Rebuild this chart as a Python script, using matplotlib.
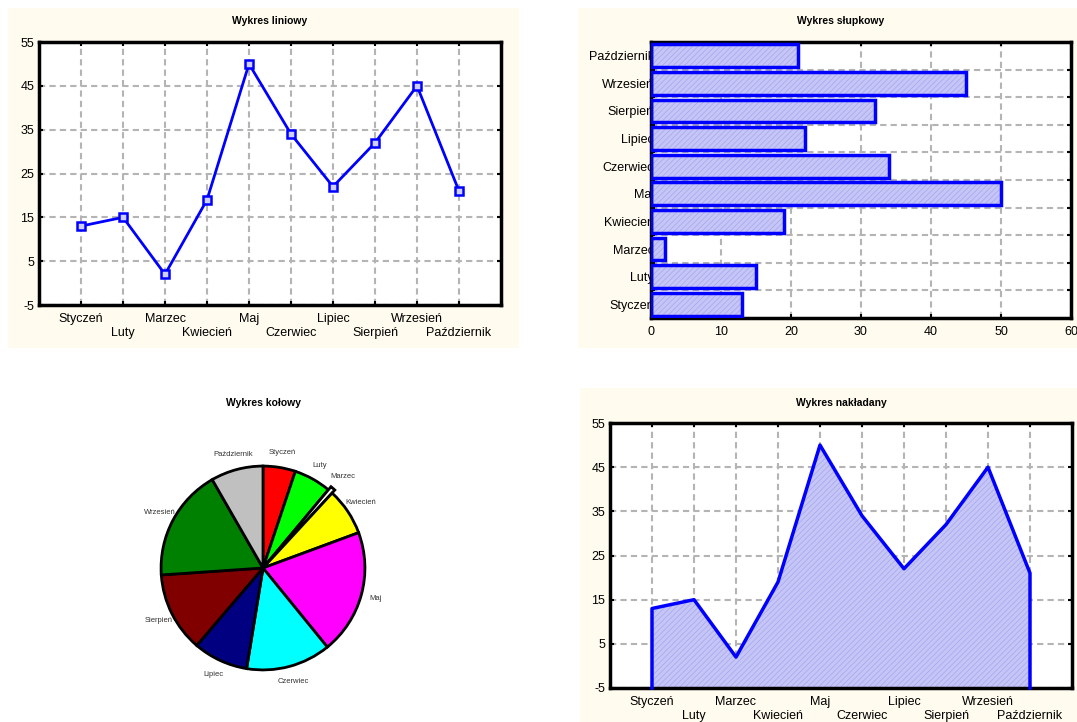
import numpy as np
import matplotlib
matplotlib.use("Agg")
import matplotlib.pyplot as plt
from matplotlib.patches import Rectangle

plt.rcParams['font.family'] = ['Liberation Sans', 'DejaVu Sans']
plt.rcParams['hatch.linewidth'] = 0.5
plt.rcParams['axes.unicode_minus'] = False

# dane - miesiace i wartosci
miesiace = ['Styczeń', 'Luty', 'Marzec', 'Kwiecień', 'Maj', 'Czerwiec',
            'Lipiec', 'Sierpień', 'Wrzesień', 'Październik']
wartosci = [13, 15, 2, 19, 50, 34, 22, 32, 45, 21]
kolory_kola = ['#ff0000', '#00ff00', '#ffffff', '#ffff00', '#ff00ff',
               '#00ffff', '#000080', '#800000', '#008000', '#c0c0c0']
y_ticks = [-5, 5, 15, 25, 35, 45, 55]
x_ticks_slupki = [0, 10, 20, 30, 40, 50, 60]

W, H = 1077, 722
KREM = '#fffbee'
NIEBIESKI = '#0000ff'
WYPELNIENIE = '#c6c6f6'
SIATKA = '#b4b4b4'
ROZM = 9


def rect(x0, y0, x1, y1):
    # prostokat w pikselach (od gory) -> wspolrzedne figury
    return [x0 / W, 1 - y1 / H, (x1 - x0) / W, (y1 - y0) / H]


def tlo(x0, y0, x1, y1):
    fig.patches.append(Rectangle((x0 / W, 1 - y1 / H), (x1 - x0) / W, (y1 - y0) / H,
                                 transform=fig.transFigure, facecolor=KREM,
                                 edgecolor='none', zorder=-10))


def styl_osi(ax):
    for s in ax.spines.values():
        s.set_linewidth(2.5)
    ax.tick_params(direction='in', top=True, right=True, length=3, width=1.5,
                   labelsize=ROZM, colors='black')
    ax.grid(True, color=SIATKA, linestyle=(0, (3, 2)), linewidth=1.5)
    ax.set_axisbelow(True)


def etykiety_miesiecy(ax):
    # parzyste miesiace w pierwszym rzedzie, nieparzyste nizej (minor ticks)
    poz = np.arange(1, len(miesiace) + 1)
    ax.set_xticks(poz[0::2])
    ax.set_xticklabels(miesiace[0::2])
    ax.set_xticks(poz[1::2], minor=True)
    ax.set_xticklabels(miesiace[1::2], minor=True)
    ax.tick_params(axis='x', which='both', direction='in', top=True,
                   length=3, width=1.5, labelsize=ROZM)
    ax.tick_params(axis='x', which='major', pad=6)
    ax.tick_params(axis='x', which='minor', pad=15.5)
    ax.grid(True, axis='x', which='minor', color=SIATKA, linestyle=(0, (3, 2)), linewidth=1.5)
    ax.set_xlim(0, len(miesiace) + 1)
    ax.set_ylim(-5, 55)
    ax.set_yticks(y_ticks)
    return poz


fig = plt.figure(figsize=(W / 100, H / 100), dpi=100)
fig.patch.set_facecolor('white')

tlo(8, 8, 519, 348)
tlo(578, 8, 1077, 348)
tlo(580, 388, 1077, 722)

####################    WYKRES LINIOWY    ####################
ax1 = fig.add_axes(rect(39, 42, 501, 305))
styl_osi(ax1)
x = etykiety_miesiecy(ax1)
ax1.plot(x, wartosci, color=NIEBIESKI, linewidth=2, marker='s', markersize=6,
         markerfacecolor='#d0d0ff', markeredgecolor=NIEBIESKI, markeredgewidth=1.8)
fig.text(270 / W, 1 - 21 / H, 'Wykres liniowy', ha='center', va='center',
         fontsize=7.5, fontweight='bold')

####################    WYKRES SLUPKOWY    ####################
ax2 = fig.add_axes(rect(651, 42, 1071, 318))
styl_osi(ax2)
yb = np.arange(len(miesiace))
ax2.barh(yb, wartosci, height=0.82, facecolor=WYPELNIENIE, edgecolor='#a4a4f0',
         hatch='//////', linewidth=0, zorder=2)
ax2.barh(yb, wartosci, height=0.82, fill=False, edgecolor=NIEBIESKI,
         linewidth=2.5, zorder=3)
ax2.set_xlim(0, 60)
ax2.set_xticks(x_ticks_slupki)
ax2.set_ylim(-0.5, len(miesiace) - 0.5)
ax2.set_yticks(yb)
ax2.set_yticklabels(miesiace)
ax2.set_yticks(yb[:-1] + 0.5, minor=True)
ax2.tick_params(axis='y', which='major', length=0, pad=-2)
ax2.tick_params(axis='y', which='minor', direction='in', left=True, right=True,
                length=3, width=1.5)
ax2.grid(False, axis='y', which='major')
ax2.grid(True, axis='y', which='minor', color=SIATKA, linestyle=(0, (3, 2)), linewidth=1.5)
ax2.tick_params(axis='x', pad=6)
fig.text(841 / W, 1 - 21 / H, 'Wykres słupkowy', ha='center', va='center',
         fontsize=7.5, fontweight='bold')

####################    WYKRES KOLOWY    ####################
rozmiar = 265
ax3 = fig.add_axes(rect(263 - rozmiar / 2, 568 - rozmiar / 2,
                        263 + rozmiar / 2, 568 + rozmiar / 2))
wysuniecie = [0.04 if m == 'Marzec' else 0 for m in miesiace]
_, teksty = ax3.pie(wartosci, colors=kolory_kola, startangle=90, counterclock=False,
                    explode=wysuniecie, labels=miesiace, labeldistance=1.15,
                    wedgeprops=dict(edgecolor='black', linewidth=2),
                    textprops=dict(fontsize=5.5, color='#333333'))
for t in teksty:
    t.set_horizontalalignment('center')
    t.set_verticalalignment('center')
ax3.set_xlim(-1.3, 1.3)
ax3.set_ylim(-1.3, 1.3)
ax3.set_aspect('equal')
ax3.axis('off')
fig.text(263 / W, 1 - 403 / H, 'Wykres kołowy', ha='center', va='center',
         fontsize=7.5, fontweight='bold')

####################    WYKRES NAKLADANY    ####################
ax4 = fig.add_axes(rect(610, 423, 1072, 688))
styl_osi(ax4)
x = etykiety_miesiecy(ax4)
xs = np.concatenate([[x[0]], x, [x[-1]]])
ys = np.concatenate([[-5], wartosci, [-5]])
ax4.fill(xs, ys, facecolor=WYPELNIENIE, edgecolor='#a4a4f0', hatch='//////',
         linewidth=0, zorder=2)
ax4.plot(xs, ys, color=NIEBIESKI, linewidth=2.5, zorder=3, clip_on=False)
fig.text(841 / W, 1 - 403 / H, 'Wykres nakładany', ha='center', va='center',
         fontsize=7.5, fontweight='bold')

fig.savefig('out.png', dpi=100)
